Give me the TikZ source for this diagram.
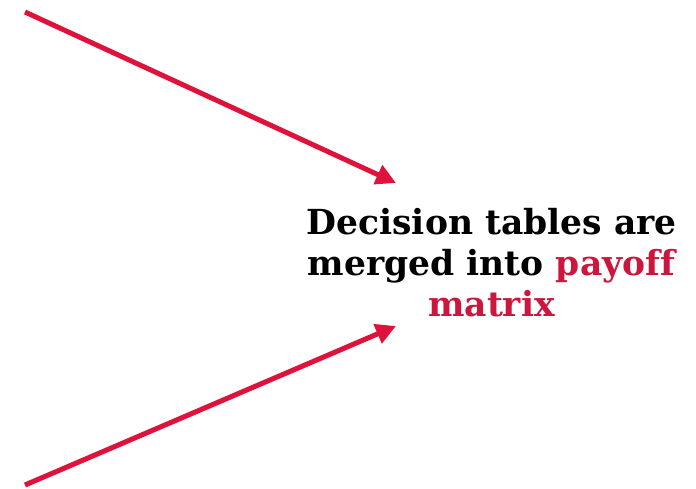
\documentclass[tikz,border=0pt]{standalone}
\usepackage{fontspec}
\setmainfont[Ligatures=NoCommon]{DejaVu Serif}
\usetikzlibrary{arrows.meta, positioning}
\definecolor{arrowred}{RGB}{222,18,58}
\definecolor{textred}{RGB}{204,22,62}
\tikzset{
    x=1pt, y=1pt,
    feed/.style = {draw=arrowred, line width=5pt, -{Triangle[length=20pt, width=20pt]}},
    note/.style = {align=center, font=\bfseries\fontsize{34.5}{41}\selectfont, inner sep=0pt}
}
\begin{document}
\begin{tikzpicture}
    \useasboundingbox (0,0) rectangle (696,488);
    % text on the right
    \node [note] (merge) at (491.5,225) {Decision tables are\\merged into \textcolor{textred}{payoff}\\\textcolor{textred}{matrix}};
    % arrow ends
    \coordinate (topin) at (25,476);
    \coordinate (toptip) at (396,305);
    \coordinate (botin) at (25,3);
    \coordinate (bottip) at (396,162);
    \draw [feed] (topin) -- (toptip);
    \draw [feed] (botin) -- (bottip);
\end{tikzpicture}
\end{document}
